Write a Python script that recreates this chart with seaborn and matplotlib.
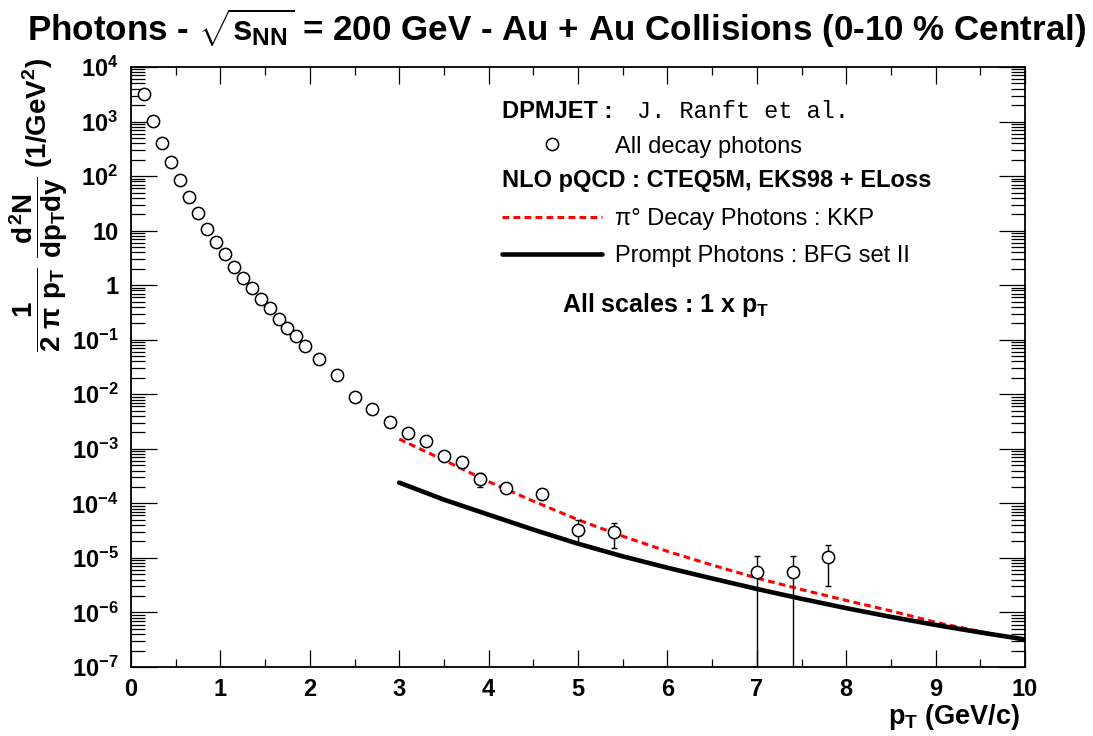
import numpy as np
import matplotlib
matplotlib.use("Agg")
import matplotlib.pyplot as plt
import seaborn as sns
from matplotlib.lines import Line2D
from matplotlib.ticker import (FixedLocator, FixedFormatter, MultipleLocator,
                               LogLocator, NullFormatter)

# ---------------- data ----------------
# DPMJET : all decay photons
pt_dpmjet = [0.15, 0.25, 0.35, 0.45, 0.55, 0.65, 0.75, 0.85, 0.95, 1.05,
             1.15, 1.25, 1.35, 1.45, 1.55, 1.65, 1.75, 1.85, 1.95, 2.1,
             2.3, 2.5, 2.7, 2.9, 3.1, 3.3, 3.5, 3.7, 3.9, 4.2,
             4.6, 5.0, 5.4, 7.0, 7.4, 7.8]
yield_dpmjet = [3160, 1020, 399, 179, 84.8, 41.9, 20.8, 10.9, 6.2, 3.68,
                2.18, 1.34, 0.878, 0.552, 0.378, 0.240, 0.166, 0.117, 0.0778, 0.0443,
                0.0226, 9.0e-3, 5.4e-3, 3.15e-3, 1.93e-3, 1.41e-3, 7.4e-4, 5.7e-4, 2.77e-4, 1.89e-4,
                1.47e-4, 3.25e-5, 2.95e-5, 5.6e-6, 5.5e-6, 1.03e-5]

# points that carry visible error bars
pt_err = [3.9, 5.0, 5.4, 7.0, 7.4, 7.8]
yield_err = [2.77e-4, 3.25e-5, 2.95e-5, 5.6e-6, 5.5e-6, 1.03e-5]
err_minus = [0.77e-4, 1.40e-5, 1.45e-5, 5.6e-6, 5.5e-6, 7.3e-6]
err_plus = [0.77e-4, 1.71e-5, 1.42e-5, 5.4e-6, 5.5e-6, 7.2e-6]

# NLO pQCD curves
pt_nlo = [3.0, 3.5, 4.0, 4.5, 5.0, 5.5, 6.0, 6.5, 7.0, 7.5, 8.0, 8.5, 9.0, 9.5, 10.0]
pi0_decay_kkp = [1.51e-3, 6.2e-4, 2.5e-4, 1.1e-4, 5.0e-5, 2.5e-5, 1.32e-5, 7.4e-6,
                 4.27e-6, 2.63e-6, 1.66e-6, 1.07e-6, 6.6e-7, 4.47e-7, 3.09e-7]
prompt_bfg = [2.40e-4, 1.17e-4, 6.2e-5, 3.3e-5, 1.82e-5, 1.07e-5, 6.6e-6, 4.2e-6,
              2.7e-6, 1.78e-6, 1.2e-6, 8.3e-7, 5.9e-7, 4.3e-7, 3.2e-7]

ytick_exponents = [-7, -6, -5, -4, -3, -2, -1, 0, 1, 2, 3, 4]
ytick_labels = [r'$10^{-7}$', r'$10^{-6}$', r'$10^{-5}$', r'$10^{-4}$', r'$10^{-3}$',
                r'$10^{-2}$', r'$10^{-1}$', '1', '10', r'$10^{2}$', r'$10^{3}$', r'$10^{4}$']

title = (r'Photons - $\sqrt{s_{NN}}$ = 200 GeV - Au + Au Collisions (0-10 % Central)')

# ---------------- style ----------------
sns.set_style("ticks")
plt.rcParams['font.family'] = ['Liberation Sans', 'DejaVu Sans']
plt.rcParams['font.weight'] = 'bold'
plt.rcParams['mathtext.fontset'] = 'custom'
plt.rcParams['mathtext.rm'] = 'Liberation Sans:bold'
plt.rcParams['mathtext.it'] = 'Liberation Sans:bold'
plt.rcParams['mathtext.bf'] = 'Liberation Sans:bold'
plt.rcParams['mathtext.sf'] = 'Liberation Sans:bold'
plt.rcParams['axes.edgecolor'] = 'black'
plt.rcParams['xtick.color'] = 'black'
plt.rcParams['ytick.color'] = 'black'
plt.rcParams['text.color'] = 'black'
plt.rcParams['axes.labelcolor'] = 'black'

W, H = 1093, 736
fig = plt.figure(figsize=(W / 100, H / 100), dpi=100)
L, R, T, B = 131, 1025, 67, 667
ax = fig.add_axes([L / W, 1 - B / H, (R - L) / W, (B - T) / H])
ax.set_yscale('log')

# ---------------- marks ----------------
sns.lineplot(x=pt_nlo, y=pi0_decay_kkp, color='red', lw=2.2,
             linestyle=(0, (2.2, 1.4)), estimator=None, ax=ax, zorder=2)
sns.lineplot(x=pt_nlo, y=prompt_bfg, color='black', lw=3.3,
             estimator=None, ax=ax, zorder=2)
ax.errorbar(pt_err, yield_err, yerr=[err_minus, err_plus], fmt='none',
            ecolor='black', elinewidth=1.0, capsize=2.4, capthick=1.0, zorder=3)
sns.scatterplot(x=pt_dpmjet, y=yield_dpmjet, marker='o', s=78, color='white',
                edgecolor='black', linewidth=1.1, ax=ax, zorder=4)

# ---------------- axes ----------------
ax.set_xlim(0, 10)
ax.set_ylim(1e-7, 1e4)
ax.xaxis.set_major_locator(MultipleLocator(1))
ax.xaxis.set_minor_locator(MultipleLocator(0.5))
ax.yaxis.set_major_locator(FixedLocator([10.0 ** e for e in ytick_exponents]))
ax.yaxis.set_major_formatter(FixedFormatter(ytick_labels))
ax.yaxis.set_minor_locator(LogLocator(base=10, subs=np.arange(2, 10), numticks=200))
ax.yaxis.set_minor_formatter(NullFormatter())

ax.tick_params(axis='x', which='major', direction='in', length=12.2, width=0.9,
               top=True, bottom=True, labelsize=17, pad=8)
ax.tick_params(axis='x', which='minor', direction='in', length=6.1, width=0.9,
               top=True, bottom=True)
ax.tick_params(axis='y', which='major', direction='in', length=19, width=0.9,
               left=True, right=True, labelsize=17, pad=9)
ax.tick_params(axis='y', which='minor', direction='in', length=10, width=0.9,
               left=True, right=True)
for lab in ax.get_xticklabels() + ax.get_yticklabels():
    lab.set_fontweight('bold')
for sp in ax.spines.values():
    sp.set_linewidth(1.3)
    sp.set_color('black')
ax.grid(False)

ax.set_xlabel(r'$p_T$ (GeV/c)', fontsize=19.5, fontweight='bold', loc='right', labelpad=3)
ax.xaxis.set_label_coords((1020 - L) / (R - L), (B - 717) / (B - T))
ax.xaxis.label.set_va('center')
ax.set_ylabel(r'$\dfrac{1}{2\ \pi\ p_T}\ \dfrac{d^2N}{dp_T dy}$ (1/GeV$^2$)',
              fontsize=20, fontweight='bold', loc='top', va='center')
ax.yaxis.set_label_coords((39 - L) / (R - L), (B - 58) / (B - T))

fig.text(557 / W, 1 - 28 / H, title, ha='center', va='center', fontsize=25.2,
         fontweight='bold')

# ---------------- legend block ----------------
def axc(px, py):
    return ((px - L) / (R - L), (B - py) / (B - T))

fs = 17
ax.text(*axc(502, 111), 'DPMJET :', transform=ax.transAxes, ha='left', va='center',
        fontsize=fs, fontweight='bold')
ax.text(*axc(637, 111), 'J. Ranft et al.', transform=ax.transAxes, ha='left',
        va='center', fontsize=17, fontweight='normal', family='Liberation Mono')
ax.text(*axc(502, 180), 'NLO pQCD : CTEQ5M, EKS98 + ELoss', transform=ax.transAxes,
        ha='left', va='center', fontsize=fs, fontweight='bold')
ax.text(*axc(562, 305), r'All scales : 1 x $p_T$', transform=ax.transAxes,
        ha='left', va='center', fontsize=18, fontweight='bold')

h_dec = Line2D([], [], ls='none', marker='o', markersize=8.8, markerfacecolor='white',
               markeredgecolor='black', markeredgewidth=1.1)
h_pi0 = Line2D([], [], color='red', lw=2.2, linestyle=(0, (2.2, 1.4)))
h_pro = Line2D([], [], color='black', lw=3.3)

hl = 100 / (fs * 100 / 72)
htp = 13 / (fs * 100 / 72)
leg1 = ax.legend([h_dec], ['All decay photons'], loc='center left',
                 bbox_to_anchor=axc(502, 146.7), frameon=False, borderpad=0,
                 borderaxespad=0, handlelength=hl, handletextpad=htp,
                 prop={'size': fs, 'weight': 'normal'}, numpoints=1)
ax.add_artist(leg1)
leg2 = ax.legend([h_pi0, h_pro], ['\u03c0\u00b0 Decay Photons : KKP',
                                  'Prompt Photons : BFG set II'],
                 loc='center left', bbox_to_anchor=axc(502, 237.5), frameon=False,
                 borderpad=0, borderaxespad=0, handlelength=hl, handletextpad=htp,
                 labelspacing=0.65, prop={'size': fs, 'weight': 'normal'})

fig.savefig('out.png', dpi=100)
